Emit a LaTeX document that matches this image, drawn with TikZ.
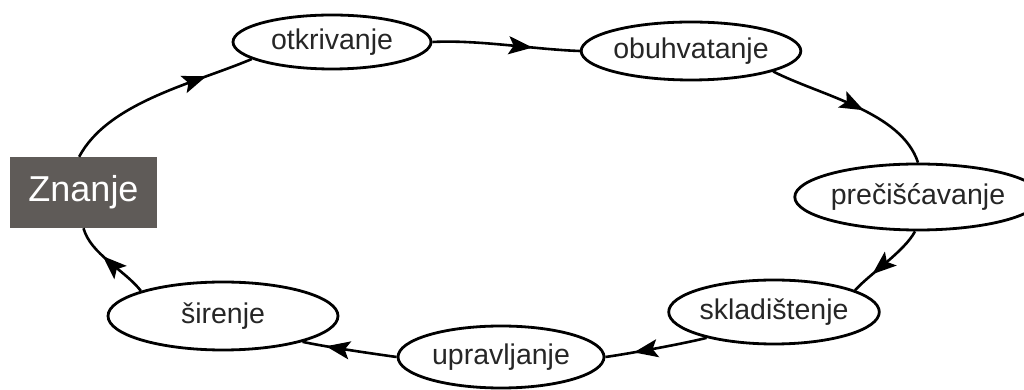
\documentclass[tikz,border=0pt]{standalone}
\usepackage{fontspec}
\setmainfont{Liberation Sans}
\usetikzlibrary{shapes.geometric,arrows.meta,decorations.markings}
\tikzset{
  stage/.style={ellipse,draw=black,line width=2.8pt,fill=white,inner sep=0pt,
    text=black!85,font=\fontsize{28.5}{30}\selectfont},
  knowbox/.style={rectangle,fill=knowgray,inner sep=0pt,text=white,
    font=\fontsize{36}{38}\selectfont},
  conn/.style={line width=2.6pt,postaction={decorate},
    decoration={markings,mark=at position #1 with {\arrow{Stealth[length=24pt,width=18pt,inset=5pt]}}}},
}
\definecolor{knowgray}{HTML}{5F5B58}
\begin{document}
\begin{tikzpicture}[x=1pt,y=1pt]
\useasboundingbox (0,0) rectangle (1024,390);
\node[knowbox,minimum width=147pt,minimum height=71pt] (zn) at (83.5,197.5) {Znanje};
\node[stage,minimum width=198pt,minimum height=54pt] (otk) at (332,348) {otkrivanje};
\node[stage,minimum width=198pt,minimum height=58pt] (obu) at (691,339) {obuhvatanje};
\node[stage,minimum width=206pt,minimum height=66pt] (pre) at (918,193) {prečišćavanje};
\node[stage,minimum width=196pt,minimum height=64pt] (skl) at (774,78) {skladištenje};
\node[stage,minimum width=206pt,minimum height=62pt] (upr) at (501,33) {upravljanje};
\node[stage,minimum width=230pt,minimum height=68pt] (sir) at (223,74) {širenje};

\draw[conn=0.76] (zn.97) to[out=62,in=203,looseness=0.8] (otk.192);
\draw[conn=0.68] (otk.east) to[out=3,in=178,looseness=0.8] (obu.west);
\draw[conn=0.56] (obu.-14) to[out=-27,in=108,looseness=0.8] (pre.north);
\draw[conn=0.72] (pre.-95) to[out=-118,in=48,looseness=0.7] (skl.15);
\draw[conn=0.72] (skl.201) to[out=194,in=8,looseness=0.6] (upr.east);
\draw[conn=0.75] (upr.west) to[out=172,in=-12,looseness=0.7] (sir.-18);
\draw[conn=0.6] (sir.163) to[out=128,in=-75,looseness=0.8] (zn.south);
\end{tikzpicture}
\end{document}
